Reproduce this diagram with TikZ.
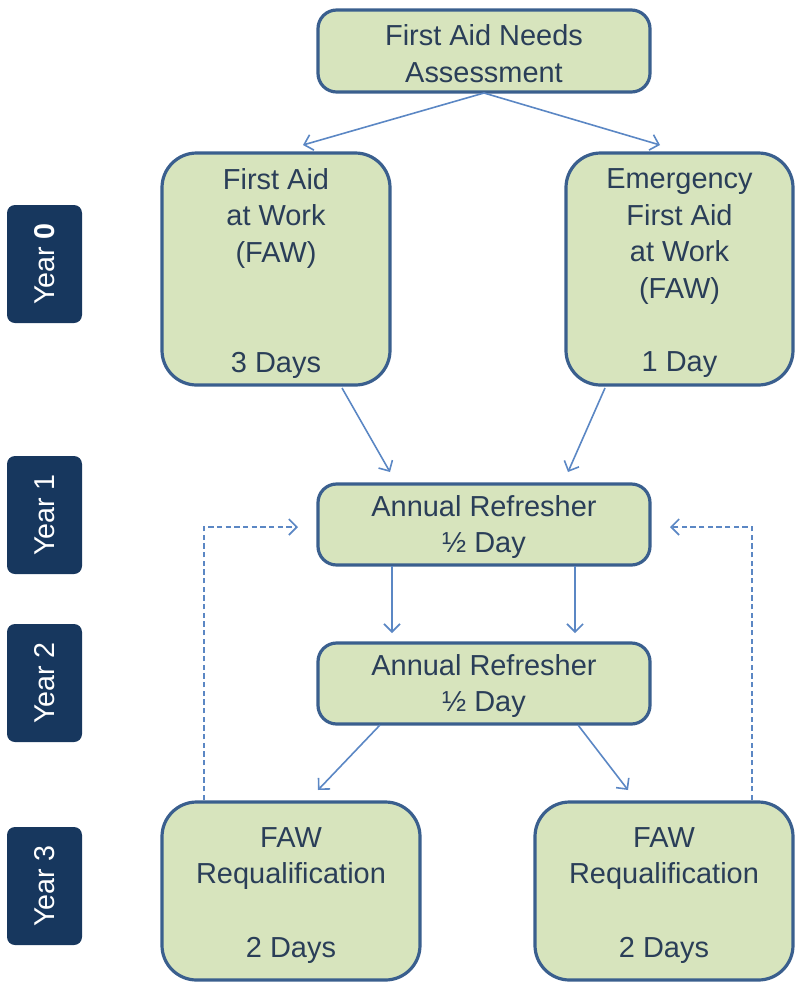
\documentclass[tikz,border=0pt]{standalone}
\usepackage{fontspec}
\setmainfont{Liberation Sans}
\usetikzlibrary{arrows.meta}
\definecolor{boxfill}{HTML}{D7E4BD}
\definecolor{boxline}{HTML}{3A5F8E}
\definecolor{arrowc}{HTML}{5B87C4}
\definecolor{txt}{HTML}{2A3E58}
\definecolor{yearfill}{HTML}{17375E}
\tikzset{
  px/.style={x=0.75pt,y=-0.75pt},
  gbox/.style={draw=boxline,line width=2.4pt,fill=boxfill,rounded corners=#1,inner sep=0pt},
  gtext/.style={text=txt,font=\fontsize{21.7}{27.5}\selectfont,align=center,inner sep=0pt},
  ybox/.style={fill=yearfill,rounded corners=6pt,text=white,minimum width=75*0.75pt,
     minimum height=118*0.75pt,inner sep=0pt},
  ytext/.style={text=white,rotate=90,font=\fontsize{21.5}{24}\selectfont,inner sep=0pt},
  arr/.style={draw=arrowc,line width=1.2pt,-{Straight Barb[length=6pt,width=12pt,line width=1.2pt]}},
  darr/.style={arr,dashed,dash pattern=on 4pt off 2.5pt}
}
\begin{document}
\begin{tikzpicture}[px]
\useasboundingbox (0,0) rectangle (795,983);
% year labels
\node[ybox] (y0) at (44.5,264) {};
\node[ytext] (y0t) at (y0) {Year \textbf{0}};
\node[ybox] (y1) at (44.5,515) {};
\node[ytext] (y1t) at (y1) {Year 1};
\node[ybox] (y2) at (44.5,683) {};
\node[ytext] (y2t) at (y2) {Year 2};
\node[ybox] (y3) at (44.5,886) {};
\node[ytext] (y3t) at (y3) {Year 3};
% boxes
\node[gbox=14pt,minimum width=332*0.75pt,minimum height=82*0.75pt] (na) at (484,51) {};
\node[gtext] (naT) at ([yshift=-2pt]na.center) {First Aid Needs\\Assessment};
\node[gbox=26pt,minimum width=228*0.75pt,minimum height=232*0.75pt] (faw) at (276,269) {};
\node[gtext] (fawT) at ([yshift=-3.2pt]faw.center) {First Aid\\at Work\\(FAW)\\ \\ \\3 Days};
\node[gbox=26pt,minimum width=227*0.75pt,minimum height=232*0.75pt] (efaw) at (679.5,269) {};
\node[gtext] (efawT) at ([yshift=-3.2pt]efaw.center) {Emergency\\First Aid\\at Work\\(FAW)\\ \\1 Day};
\node[gbox=14pt,minimum width=332*0.75pt,minimum height=81*0.75pt] (ar1) at (484,524.5) {};
\node[gtext] (ar1T) at ([yshift=-2pt]ar1.center) {Annual Refresher\\½ Day};
\node[gbox=14pt,minimum width=332*0.75pt,minimum height=81*0.75pt] (ar2) at (484,683.5) {};
\node[gtext] (ar2T) at ([yshift=-2pt]ar2.center) {Annual Refresher\\½ Day};
\node[gbox=26pt,minimum width=258*0.75pt,minimum height=178*0.75pt] (rq1) at (291,891) {};
\node[gtext] (rq1T) at ([yshift=-3.2pt]rq1.center) {FAW\\Requalification\\ \\2 Days};
\node[gbox=26pt,minimum width=258*0.75pt,minimum height=178*0.75pt] (rq2) at (664,891) {};
\node[gtext] (rq2T) at ([yshift=-3.2pt]rq2.center) {FAW\\Requalification\\ \\2 Days};
% connector endpoints
\coordinate (naS) at (484,93);
\coordinate (e1) at (303,145);
\coordinate (e2) at (660,145);
\coordinate (f1) at (342,388);
\coordinate (e3) at (390,472);
\coordinate (f2) at (605,388);
\coordinate (e4) at (568,472);
\coordinate (a1) at (392,566);
\coordinate (e5) at (392,633);
\coordinate (a2) at (575,566);
\coordinate (e6) at (575,633);
\coordinate (b1) at (380,725);
\coordinate (e7) at (318,790);
\coordinate (b2) at (578,725);
\coordinate (e8) at (628,790);
\coordinate (d1) at (204,800);
\coordinate (d1c) at (204,527);
\coordinate (e9) at (298,527);
\coordinate (d2) at (752,800);
\coordinate (d2c) at (752,527);
\coordinate (e10) at (670,527);
\draw[arr] (naS) -- (e1);
\draw[arr] (naS) -- (e2);
\draw[arr] (f1) -- (e3);
\draw[arr] (f2) -- (e4);
\draw[arr] (a1) -- (e5);
\draw[arr] (a2) -- (e6);
\draw[arr] (b1) -- (e7);
\draw[arr] (b2) -- (e8);
\draw[darr] (d1) -- (d1c) -- (e9);
\draw[darr] (d2) -- (d2c) -- (e10);
\end{tikzpicture}
\end{document}
